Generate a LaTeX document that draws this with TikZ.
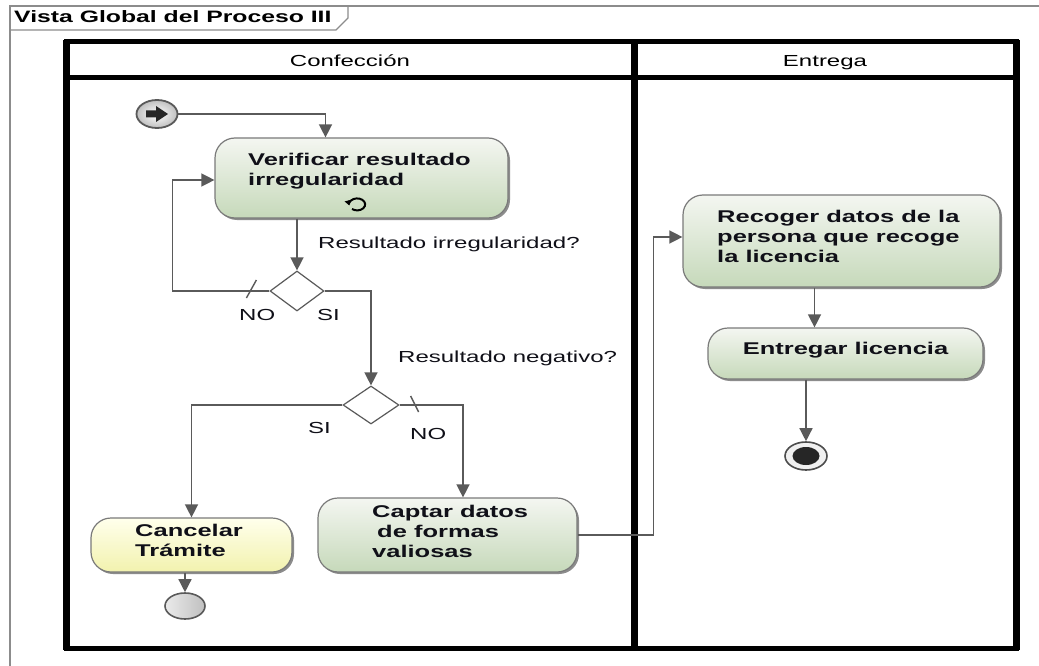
\documentclass[tikz,border=0pt]{standalone}
\usepackage{fontspec}
\setmainfont{Liberation Sans}
\newfontfamily\widesans[FakeStretch=1.5]{Liberation Sans}
\usetikzlibrary{arrows.meta,shapes.geometric,shadows}

\definecolor{linegray}{HTML}{5A5A5A}
\definecolor{framegray}{HTML}{8C8C8C}
\definecolor{boxedge}{HTML}{7A7A7A}
\definecolor{greentop}{HTML}{F4F6F1}
\definecolor{greenbot}{HTML}{C6D9BA}
\definecolor{yellowtop}{HTML}{FFFFEC}
\definecolor{yellowbot}{HTML}{F2F2AE}
\definecolor{inktext}{HTML}{101018}

\begin{document}
\begin{tikzpicture}[x=1pt,y=-1pt,
  flow/.style={draw=linegray, line width=1.4pt, -{Triangle[length=13pt,width=13pt]}},
  plainline/.style={draw=linegray, line width=1.4pt},
  actbox/.style={rectangle, rounded corners=20pt, draw=boxedge, line width=1.2pt,
    top color=greentop, bottom color=greenbot, inner sep=0pt,
    drop shadow={shadow xshift=2pt, shadow yshift=-2pt, fill=black!45, opacity=1}},
  cancelbox/.style={actbox, top color=yellowtop, bottom color=yellowbot},
  acttext/.style={font=\widesans\bfseries\fontsize{17}{20}\selectfont, text=inktext,
    align=left, inner sep=0pt, anchor=north west},
  guard/.style={font=\widesans\fontsize{16}{19}\selectfont, text=inktext, inner sep=0pt, anchor=base west},
  lanehead/.style={font=\widesans\fontsize{16}{19}\selectfont, text=black, inner sep=0pt, anchor=base},
  decision/.style={diamond, draw=linegray, line width=1.2pt, fill=white, inner sep=0pt},
  startnode/.style={ellipse, draw=black!65, line width=1.8pt, inner color=white, outer color=black!25,
    minimum width=41pt, minimum height=28pt, inner sep=0pt},
  flowend/.style={ellipse, draw=black!65, line width=1.6pt, left color=black!8, right color=black!25,
    minimum width=40pt, minimum height=26pt, inner sep=0pt},
]
\useasboundingbox (0,0) rectangle (1039,666);
\fill[white] (0,0) rectangle (1039,666);

% diagram frame and its name tab
\draw[framegray, line width=1.5pt] (10,666) -- (10,6) -- (1039,6);
\draw[framegray, line width=1.2pt] (10,30) -- (336,30) -- (348,18) -- (348,6);
\node[font=\widesans\bfseries\fontsize{16.5}{19}\selectfont, inner sep=0pt, anchor=base west]
  (title) at (14,23) {Vista Global del Proceso III};

% swimlanes
\draw[black, line width=5pt] (66,42) rectangle (1016,648);
\draw[black, line width=5pt] (66,78) -- (1016,78);
\draw[black, line width=7pt] (66,40) -- (66,650);
\draw[black, line width=7pt] (1016,40) -- (1016,650);
\draw[black, line width=7pt] (634,40) -- (634,650);
\node[lanehead] (laneA) at (350,67) {Confección};
\node[lanehead] (laneB) at (825,67) {Entrega};

% start node
\node[startnode] (init) at (157,114) {};
\fill[black!85] (146,110.5) -- (156,110.5) -- (156,106) -- (168,114) -- (156,122) -- (156,117.5) -- (146,117.5) -- cycle;

% activities
\node[actbox, minimum width=293pt, minimum height=80pt] (verif) at (361.5,178) {};
\node[acttext] (verifT) at (248,153) {Verificar resultado\\irregularidad};
% loop marker of the looping activity
\draw[black, line width=2pt, -{Triangle[length=5pt,width=7pt]}]
  (352,209) arc[start angle=-130, end angle=190, x radius=8pt, y radius=6pt];

\node[actbox, minimum width=317pt, minimum height=92pt] (recoger) at (841.5,241) {};
\node[acttext] (recogerT) at (717,209.5) {Recoger datos de la\\persona que recoge\\la licencia};

\node[actbox, minimum width=275pt, minimum height=51pt] (entregar) at (845.5,353.5) {};
\node[acttext, anchor=base] (entregarT) at (845.5,354) {Entregar licencia};

\node[cancelbox, minimum width=201pt, minimum height=54pt] (cancel) at (191.5,545) {};
\node[acttext] (cancelT) at (135,523.5) {Cancelar\\Trámite};

\node[actbox, minimum width=259pt, minimum height=74pt] (captar) at (447.5,535) {};
\node[acttext] (captarT) at (372,504.5) {Captar datos\\\hspace*{5pt}de formas\\valiosas};

% decisions
\node[decision, minimum width=54pt, minimum height=40pt] (d1) at (297,291) {};
\node[decision, minimum width=56pt, minimum height=38pt] (d2) at (371,405) {};

% final nodes
\node[flowend] (final1) at (185,606) {};
\node[ellipse, draw=black!70, line width=1.6pt, fill=black!6,
      minimum width=42pt, minimum height=28pt, inner sep=0pt] (endn) at (806,456) {};
\node[ellipse, fill=black!85, minimum width=27pt, minimum height=18pt, inner sep=0pt] (endcore) at (806,456) {};

% guards
\node[guard] (g1) at (318,248) {Resultado irregularidad?};
\node[guard] (g1no) at (239,320) {NO};
\node[guard] (g1si) at (317,320) {SI};
\node[guard] (g2) at (398,362) {Resultado negativo?};
\node[guard] (g2si) at (308,433) {SI};
\node[guard] (g2no) at (410,439) {NO};

% control flows
\draw[flow] (init.east) -| ([xshift=-36pt]verif.north);
\draw[flow] (verif.south -| d1.north) -- (d1.north);
\draw[flow] (d1.west) -- ++(-97,0) |- ([yshift=-2pt]verif.west);
\draw[plainline] (d1.west) ++(-23,7) -- ++(10,-18);
\draw[flow] (d1.east) -| (d2.north);
\draw[flow] (d2.west) -| (cancel.north);
\draw[flow] (d2.east) -| ([xshift=15.5pt]captar.north);
\draw[plainline] (d2.east) ++(11,-9) -- ++(8,16);
\draw[flow] (cancel.south -| final1.north) -- (final1.north);
\draw[flow] (captar.east) -- ++(76,0) |- ([yshift=4pt]recoger.west);
\draw[flow] ([xshift=-27pt]recoger.south) -- ([xshift=-27pt]recoger.south |- entregar.north);
\draw[flow] (entregar.south -| endn.north) -- (endn.north);
\end{tikzpicture}
\end{document}
